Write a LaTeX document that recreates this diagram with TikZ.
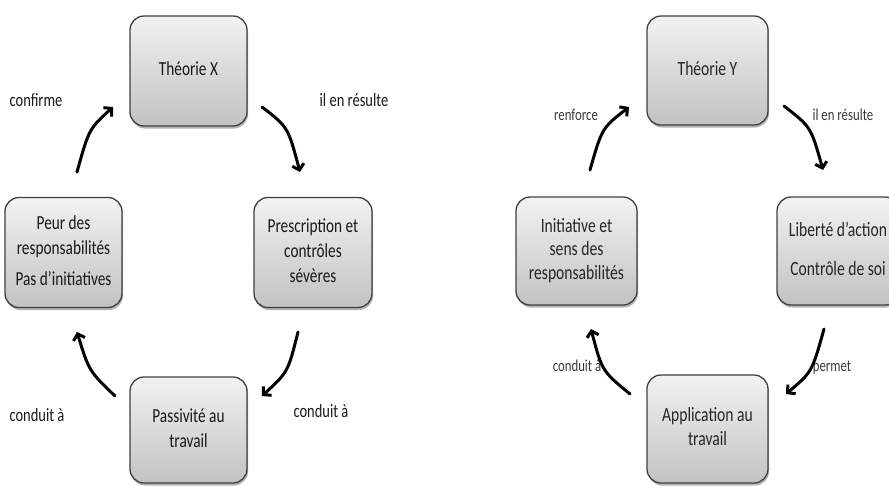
\documentclass[tikz,border=0pt]{standalone}
\usepackage{graphicx}
\usepackage{fontspec}
\setmainfont{Carlito}
\usetikzlibrary{arrows.meta,shadows}

% text set slightly taller than wide
\newcommand\tallbox[1]{\scalebox{1}[1.3]{\begin{tabular}{@{}c@{}}#1\end{tabular}}}

\tikzset{
  card/.style={draw=black!75, line width=1.3pt, rounded corners=14pt,
    top color=gray!10, bottom color=gray!48, inner sep=0pt,
    drop shadow={shadow xshift=1pt, shadow yshift=-2.5pt, opacity=0.3, fill=black},
    text=black!90, font=\fontsize{15.3}{19}\selectfont},
  cardR/.style={card, text=black!85, font=\fontsize{15.6}{18}\selectfont},
  lbl/.style={inner sep=0pt, text=black!90, font=\fontsize{14.5}{17}\selectfont},
  lblR/.style={inner sep=0pt, text=black!78, font=\fontsize{12.8}{15}\selectfont},
  flow/.style={line width=3pt, line cap=round,
    -{Straight Barb[length=5.5pt,width=12pt]}},
}

\begin{document}
\begin{tikzpicture}[x=1pt,y=-1pt]
\useasboundingbox (0,0) rectangle (889,485);
\clip (0,0) rectangle (889,485);

% ---------- Theory X cycle ----------
\node[card, minimum width=117pt, minimum height=110pt] (tx) at (188.5,71)
  {\tallbox{Théorie X}};
\node[card, minimum width=118pt, minimum height=110pt] (presc) at (313,252.5)
  {\tallbox{Prescription et\\contrôles\\sévères}};
\node[card, minimum width=117pt, minimum height=110pt] (peur) at (63.5,252.5)
  {\tallbox{Peur des\\responsabilités\\[5pt]Pas d’initiatives}};
\node[card, minimum width=117pt, minimum height=106pt] (pass) at (188.5,430)
  {\tallbox{Passivité au\\travail}};

\node[lbl] (l1) at (36,102) {\tallbox{confirme}};
\node[lbl] (l2) at (354,102) {\tallbox{il en résulte}};
\node[lbl] (l3) at (37,417) {\tallbox{conduit à}};
\node[lbl] (l4) at (321,413) {\tallbox{conduit à}};

\coordinate (a1s) at (77,172);  \coordinate (a1e) at (113,107);
\coordinate (a2s) at (262,107); \coordinate (a2e) at (300,172);
\coordinate (a3s) at (298,332); \coordinate (a3e) at (262,396);
\coordinate (a4s) at (115,396); \coordinate (a4e) at (77,332);

\draw[flow] (a1s) .. controls (89,129) .. (a1e);
\draw[flow] (a2s) .. controls (288,127) .. (a2e);
\draw[flow] (a3s) .. controls (288,372) .. (a3e);
\draw[flow] (a4s) .. controls (89,371) .. (a4e);

% ---------- Theory Y cycle ----------
\node[cardR, minimum width=121pt, minimum height=109pt] (ty) at (707.5,70.5)
  {\tallbox{Théorie Y}};
\node[cardR, minimum width=122pt, minimum height=108pt] (lib) at (838,251)
  {\tallbox{Liberté d’action\\[12pt]Contrôle de soi}};
\node[cardR, minimum width=121pt, minimum height=108pt] (init) at (576.5,251)
  {\tallbox{Initiative et\\sens des\\responsabilités}};
\node[cardR, minimum width=121pt, minimum height=108pt] (appl) at (707.5,429)
  {\tallbox{Application au\\travail}};

\node[lblR] (r1) at (576,117) {\tallbox{renforce}};
\node[lblR] (r2) at (843,117) {\tallbox{il en résulte}};
\node[lblR] (r3) at (577,368) {\tallbox{conduit à}};
\node[lblR] (r4) at (832,368) {\tallbox{permet}};

\coordinate (b1s) at (590,170); \coordinate (b1e) at (629,107);
\coordinate (b2s) at (784,106); \coordinate (b2e) at (823,170);
\coordinate (b3s) at (824,329); \coordinate (b3e) at (786,394);
\coordinate (b4s) at (630,394); \coordinate (b4e) at (591,329);

\draw[flow] (b1s) .. controls (602,128) .. (b1e);
\draw[flow] (b2s) .. controls (811,127) .. (b2e);
\draw[flow] (b3s) .. controls (812,372) .. (b3e);
\draw[flow] (b4s) .. controls (602,371) .. (b4e);
\end{tikzpicture}
\end{document}
